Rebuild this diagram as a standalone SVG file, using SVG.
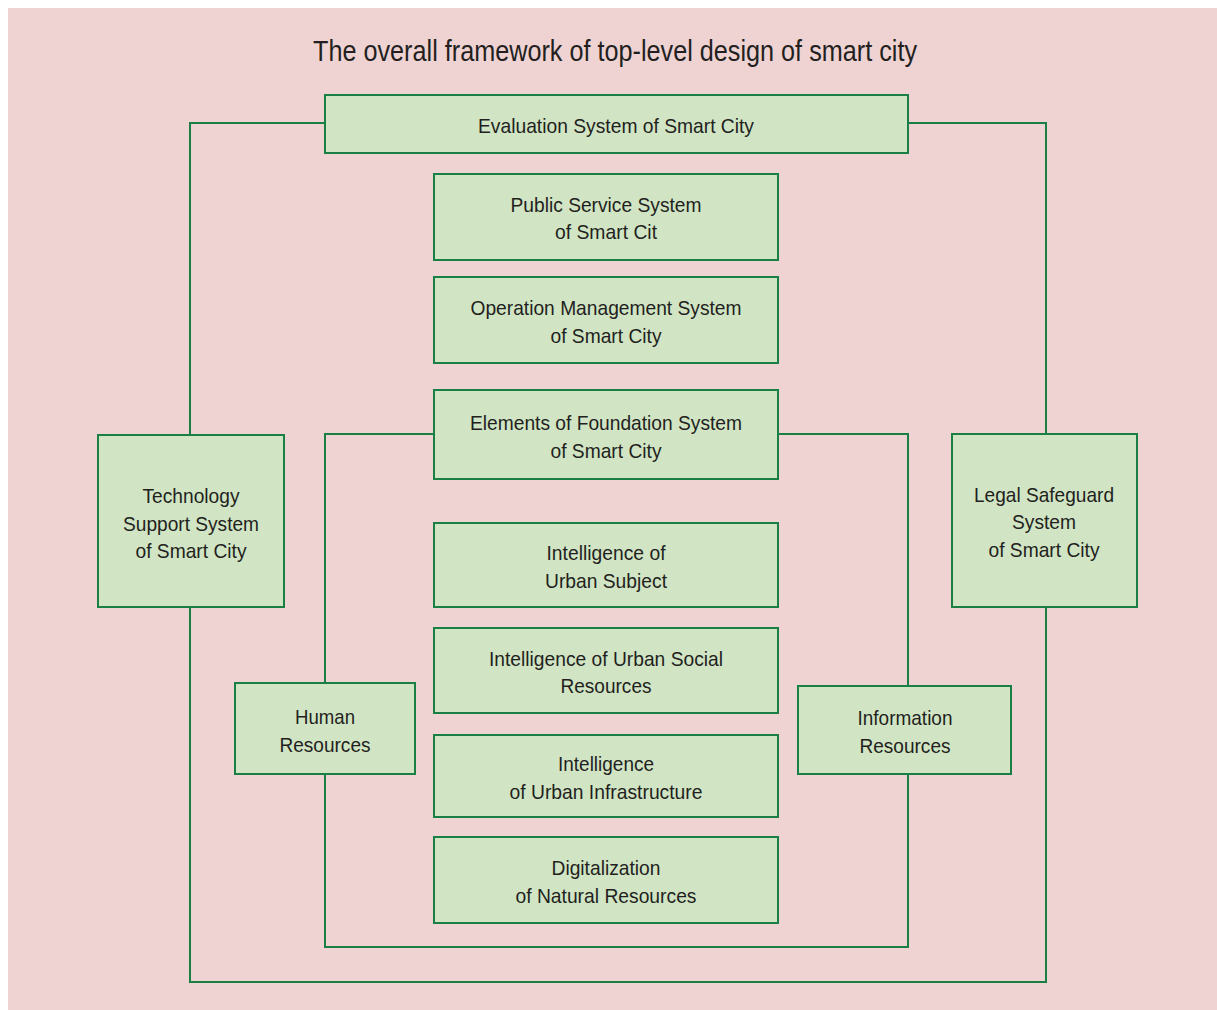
<svg xmlns="http://www.w3.org/2000/svg" width="1217" height="1010" viewBox="0 0 1217 1010">
<style>
.bg{fill:#efd3d3}
.box{fill:#d1e5c5;stroke:#1a7f45;stroke-width:2}
.ln{fill:none;stroke:#1a7f45;stroke-width:2}
text{font-family:"Liberation Sans",Arial,sans-serif;fill:#231f20;text-anchor:middle}
.t{font-size:21px}
.title{font-size:29px}
</style>
<rect x="0" y="0" width="1217" height="1010" fill="#ffffff"/>
<rect class="bg" x="8" y="8" width="1209" height="1002"/>
<text class="title" x="615" y="61" textLength="604" lengthAdjust="spacingAndGlyphs">The overall framework of top-level design of smart city</text>
<g id="connectors">
<polyline class="ln" points="325,123 190,123 190,435"/>
<polyline class="ln" points="908,123 1046,123 1046,434"/>
<polyline class="ln" points="190,607 190,982 1046,982 1046,607"/>
<polyline class="ln" points="434,434 325,434 325,683"/>
<polyline class="ln" points="778,434 908,434 908,686"/>
<polyline class="ln" points="325,774 325,947 908,947 908,774"/>
</g>
<g id="evaluation">
<rect class="box" x="325" y="95" width="583" height="58"/>
<text class="t" x="616" y="133" textLength="276" lengthAdjust="spacingAndGlyphs">Evaluation System of Smart City</text>
</g>
<g id="public-service">
<rect class="box" x="434" y="174" width="344" height="86"/>
<text class="t" x="606" y="212" textLength="191" lengthAdjust="spacingAndGlyphs">Public Service System</text>
<text class="t" x="606" y="239" textLength="102" lengthAdjust="spacingAndGlyphs">of Smart Cit</text>
</g>
<g id="operation">
<rect class="box" x="434" y="277" width="344" height="86"/>
<text class="t" x="606" y="315" textLength="271" lengthAdjust="spacingAndGlyphs">Operation Management System</text>
<text class="t" x="606" y="343" textLength="111" lengthAdjust="spacingAndGlyphs">of Smart City</text>
</g>
<g id="elements">
<rect class="box" x="434" y="390" width="344" height="89"/>
<text class="t" x="606" y="430" textLength="272" lengthAdjust="spacingAndGlyphs">Elements of Foundation System</text>
<text class="t" x="606" y="458" textLength="111" lengthAdjust="spacingAndGlyphs">of Smart City</text>
</g>
<g id="technology">
<rect class="box" x="98" y="435" width="186" height="172"/>
<text class="t" x="191" y="503" textLength="97" lengthAdjust="spacingAndGlyphs">Technology</text>
<text class="t" x="191" y="531" textLength="136" lengthAdjust="spacingAndGlyphs">Support System</text>
<text class="t" x="191" y="558" textLength="111" lengthAdjust="spacingAndGlyphs">of Smart City</text>
</g>
<g id="legal">
<rect class="box" x="952" y="434" width="185" height="173"/>
<text class="t" x="1044" y="502" textLength="140" lengthAdjust="spacingAndGlyphs">Legal Safeguard</text>
<text class="t" x="1044" y="529" textLength="64" lengthAdjust="spacingAndGlyphs">System</text>
<text class="t" x="1044" y="557" textLength="111" lengthAdjust="spacingAndGlyphs">of Smart City</text>
</g>
<g id="urban-subject">
<rect class="box" x="434" y="523" width="344" height="84"/>
<text class="t" x="606" y="560" textLength="119" lengthAdjust="spacingAndGlyphs">Intelligence of</text>
<text class="t" x="606" y="588" textLength="122" lengthAdjust="spacingAndGlyphs">Urban Subject</text>
</g>
<g id="urban-social">
<rect class="box" x="434" y="628" width="344" height="85"/>
<text class="t" x="606" y="666" textLength="234" lengthAdjust="spacingAndGlyphs">Intelligence of Urban Social</text>
<text class="t" x="606" y="693" textLength="91" lengthAdjust="spacingAndGlyphs">Resources</text>
</g>
<g id="human">
<rect class="box" x="235" y="683" width="180" height="91"/>
<text class="t" x="325" y="724" textLength="60" lengthAdjust="spacingAndGlyphs">Human</text>
<text class="t" x="325" y="752" textLength="91" lengthAdjust="spacingAndGlyphs">Resources</text>
</g>
<g id="information">
<rect class="box" x="798" y="686" width="213" height="88"/>
<text class="t" x="905" y="725" textLength="95" lengthAdjust="spacingAndGlyphs">Information</text>
<text class="t" x="905" y="753" textLength="91" lengthAdjust="spacingAndGlyphs">Resources</text>
</g>
<g id="infrastructure">
<rect class="box" x="434" y="735" width="344" height="82"/>
<text class="t" x="606" y="771" textLength="96" lengthAdjust="spacingAndGlyphs">Intelligence</text>
<text class="t" x="606" y="799" textLength="193" lengthAdjust="spacingAndGlyphs">of Urban Infrastructure</text>
</g>
<g id="natural">
<rect class="box" x="434" y="837" width="344" height="86"/>
<text class="t" x="606" y="875" textLength="109" lengthAdjust="spacingAndGlyphs">Digitalization</text>
<text class="t" x="606" y="903" textLength="181" lengthAdjust="spacingAndGlyphs">of Natural Resources</text>
</g>
</svg>
